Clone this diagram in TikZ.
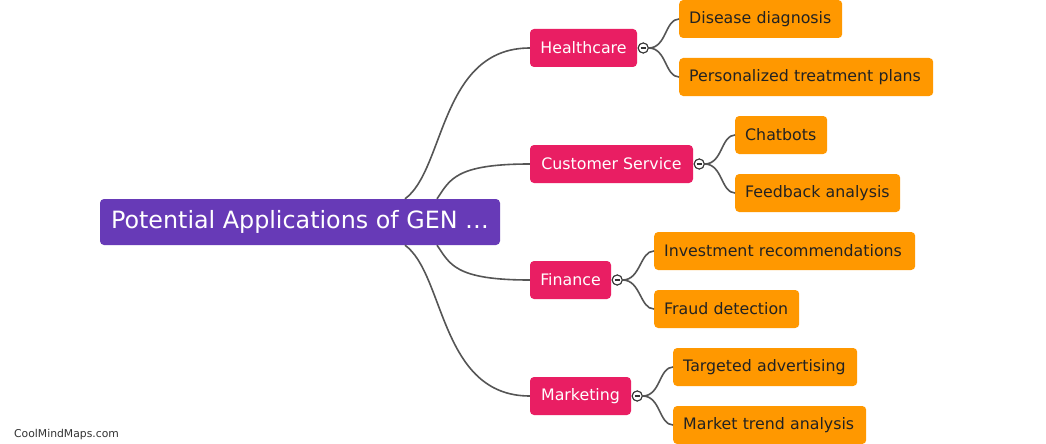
\documentclass[tikz,border=0pt]{standalone}
\usepackage{fontspec}
\setmainfont{DejaVu Sans}
\definecolor{rootc}{HTML}{673AB7}
\definecolor{branchc}{HTML}{E91E63}
\definecolor{leafc}{HTML}{FF9800}
\definecolor{linec}{HTML}{555555}
\definecolor{leaftext}{HTML}{222222}
\begin{document}
\begin{tikzpicture}[x=1pt,y=-1pt,
  rootbox/.style={fill=rootc, rounded corners=4pt, text=white, minimum width=400pt, minimum height=46pt, inner sep=0pt, font=\fontsize{23.8}{28}\selectfont},
  branchbox/.style={fill=branchc, rounded corners=4pt, text=white, minimum height=38pt, inner sep=0pt, font=\fontsize{15.8}{19}\selectfont},
  leafbox/.style={fill=leafc, rounded corners=4pt, text=leaftext, minimum height=38pt, inner xsep=10pt, inner ysep=0pt, anchor=west, align=left, font=\fontsize{15.8}{19}\selectfont},
  toggle/.style={circle, draw=black!80, fill=white, line width=1pt, minimum size=10pt, inner sep=0pt,
    path picture={\draw[black!80, line width=1.2pt] ([xshift=-2.6pt]path picture bounding box.center) -- ([xshift=2.6pt]path picture bounding box.center);}},
  conn/.style={draw=linec, line width=1.6pt}
]
\useasboundingbox (0,0) rectangle (1046,444);
\fill[white] (0,0) rectangle (1046,444);

% root
\node[rootbox] (root) at (300,222) {Potential Applications of GEN …};

% branches
\node[branchbox, minimum width=107pt] (hc) at (583.5,48) {Healthcare};
\node[branchbox, minimum width=163pt] (cs) at (611.5,164) {Customer Service};
\node[branchbox, minimum width=81pt] (fi) at (570.5,280) {Finance};
\node[branchbox, minimum width=101pt] (mk) at (580.5,396) {Marketing};

% toggles
\node[toggle] (thc) at ([xshift=6pt]hc.east) {};
\node[toggle] (tcs) at ([xshift=6pt]cs.east) {};
\node[toggle] (tfi) at ([xshift=6pt]fi.east) {};
\node[toggle] (tmk) at ([xshift=6pt]mk.east) {};

% leaves
\node[leafbox, text width=143pt] (l1) at (679,19) {Disease diagnosis};
\node[leafbox, text width=234pt] (l2) at (679,77) {Personalized treatment plans};
\node[leafbox, text width=72pt] (l3) at (735,135) {Chatbots};
\node[leafbox, text width=145pt] (l4) at (735,193) {Feedback analysis};
\node[leafbox, text width=241pt] (l5) at (654,251) {Investment recommendations};
\node[leafbox, text width=125pt] (l6) at (654,309) {Fraud detection};
\node[leafbox, text width=164pt] (l7) at (673,367) {Targeted advertising};
\node[leafbox, text width=173pt] (l8) at (673,425) {Market trend analysis};

% root anchor points
\coordinate (rn1) at ([xshift=105pt]root.north);
\coordinate (rn2) at ([xshift=137pt]root.north);
\coordinate (rs1) at ([xshift=105pt]root.south);
\coordinate (rs2) at ([xshift=137pt]root.south);

% root to branches
\path[conn] (rn1) .. controls +(40,-29) and +(-90,0) .. (hc.west);
\path[conn] (rn2) .. controls +(13,-19) and +(-75,0) .. (cs.west);
\path[conn] (rs2) .. controls +(13,19) and +(-75,0) .. (fi.west);
\path[conn] (rs1) .. controls +(40,29) and +(-90,0) .. (mk.west);

% toggles to leaves
\path[conn] (thc.east) .. controls +(18,0) and +(-14,0) .. (l1.west);
\path[conn] (thc.east) .. controls +(18,0) and +(-14,0) .. (l2.west);
\path[conn] (tcs.east) .. controls +(18,0) and +(-14,0) .. (l3.west);
\path[conn] (tcs.east) .. controls +(18,0) and +(-14,0) .. (l4.west);
\path[conn] (tfi.east) .. controls +(18,0) and +(-14,0) .. (l5.west);
\path[conn] (tfi.east) .. controls +(18,0) and +(-14,0) .. (l6.west);
\path[conn] (tmk.east) .. controls +(18,0) and +(-14,0) .. (l7.west);
\path[conn] (tmk.east) .. controls +(18,0) and +(-14,0) .. (l8.west);

% redraw toggles on top
\node[toggle] at (thc) {};
\node[toggle] at (tcs) {};
\node[toggle] at (tfi) {};
\node[toggle] at (tmk) {};

% watermark
\node[anchor=west, inner sep=0pt, text=black!80, font=\fontsize{10.8}{13}\selectfont] (wm) at (14,435) {CoolMindMaps.com};
\end{tikzpicture}
\end{document}
